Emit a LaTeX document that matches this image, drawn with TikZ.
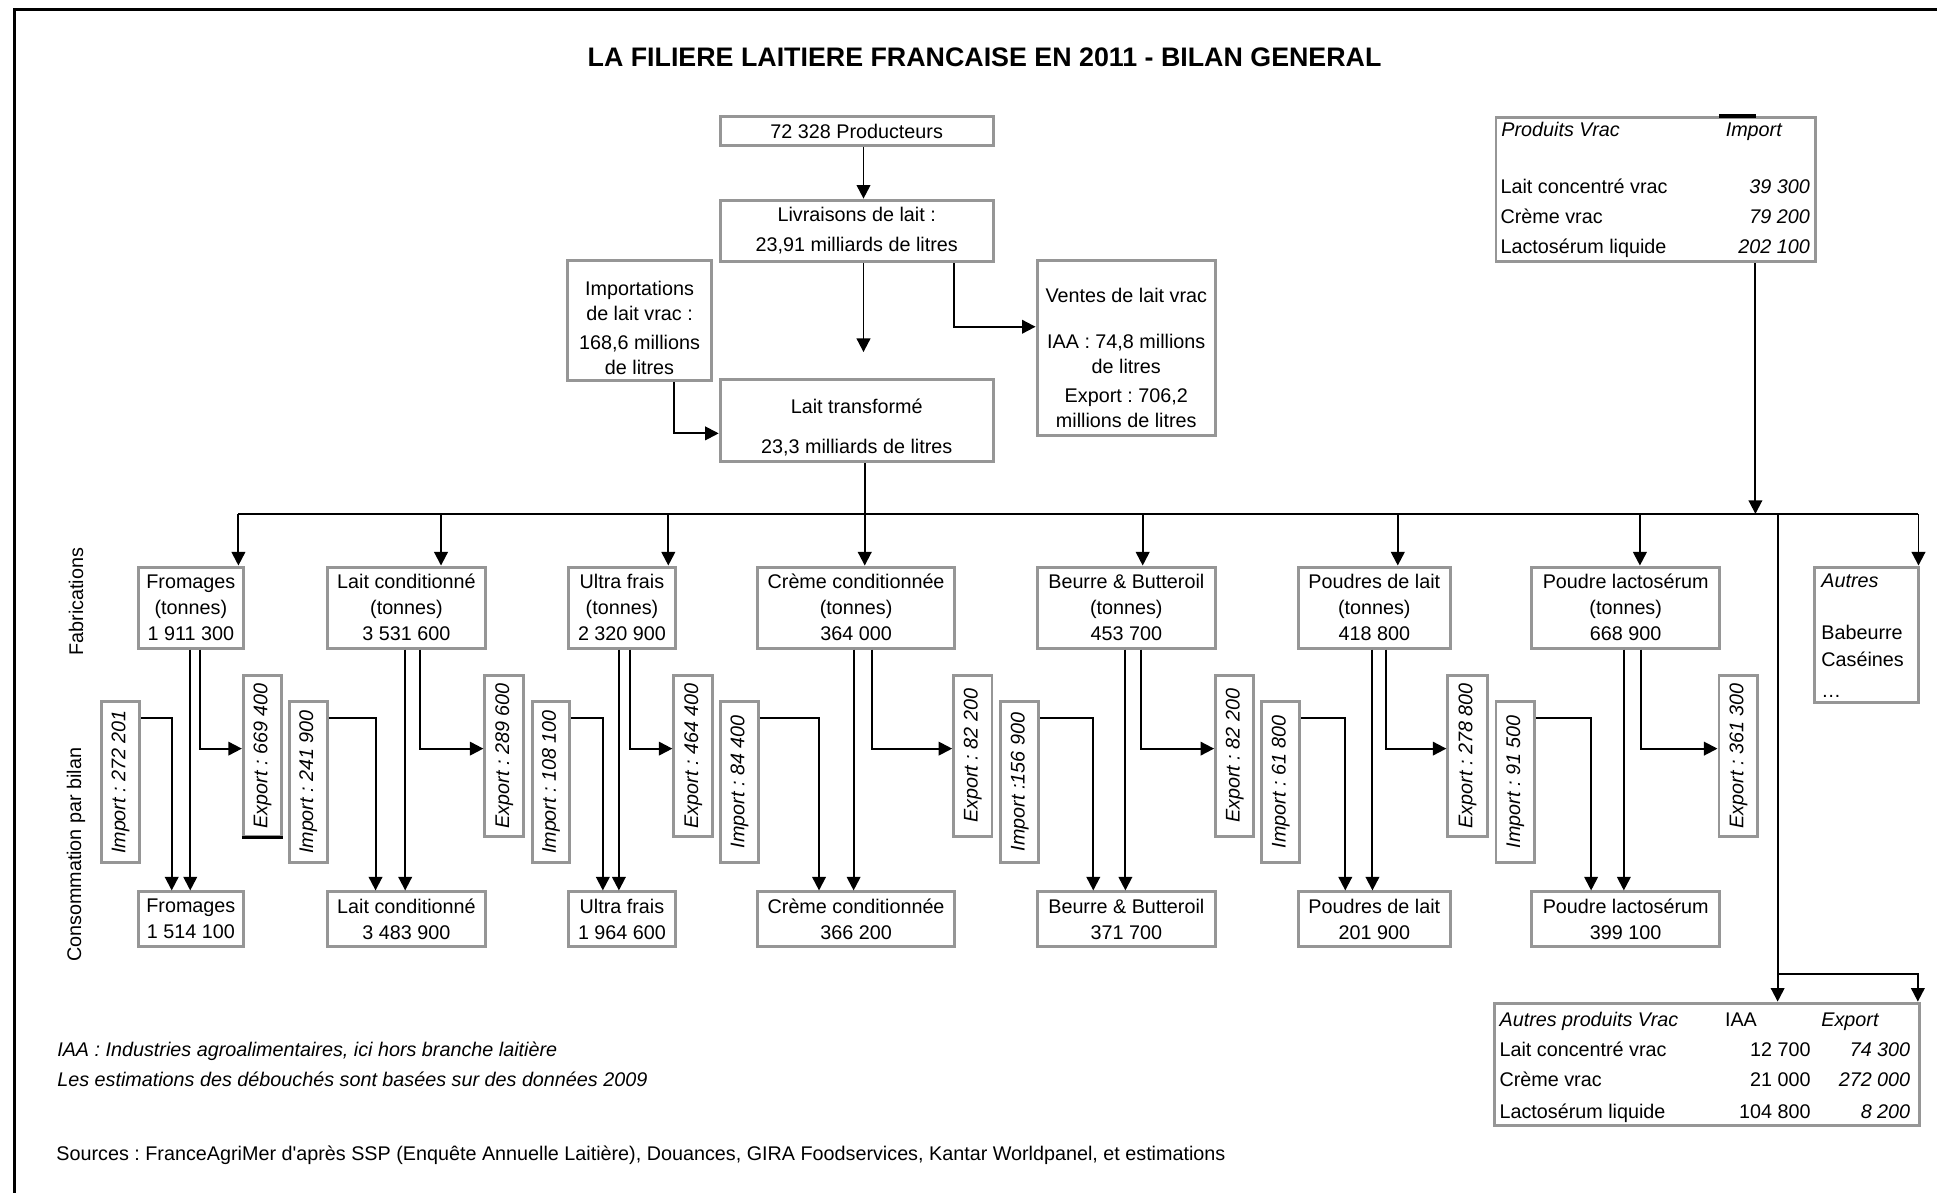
\documentclass[tikz,border=0pt]{standalone}
\usepackage{fontspec}
\setmainfont{Liberation Sans}
\usetikzlibrary{arrows.meta,calc}
\definecolor{boxgray}{RGB}{150,150,150}
\tikzset{
  box/.style={draw=boxgray,line width=1.2pt,fill=white,inner sep=0pt,align=center},
  arr/.style={-{Triangle[length=5.5pt,width=5.5pt]},line width=0.8pt},
  conn/.style={line width=0.8pt},
  tl/.style={inner sep=0pt,text height=6pt,text depth=1.7pt},
  fabf/.style={font=\fontsize{8}{10.5}\selectfont},
  frameline/.style={line width=1.3pt},
  blackmark/.style={line width=1.5pt,black},
}
% #1 opt style, #2 name, #3 left, #4 top, #5 right, #6 bottom, #7 text
\newcommand\MyBox[7][]{\node[box,#1,minimum width={(#5-#3)*0.5pt},minimum height={(#6-#4)*0.5pt}] (#2) at ({(#3+#5)/2},{(#4+#6)/2}) {#7};}
% rotated box: #1 name, #2 left, #3 top, #4 right, #5 bottom, #6 text
\newcommand\MyRBox[6]{\node[box,rotate=90,font=\itshape,minimum width={(#5-#3)*0.5pt},minimum height={(#4-#2)*0.5pt}] (#1) at ({(#2+#4)/2},{(#3+#5)/2}) {#6};}
\begin{document}
\frenchspacing
\fontsize{8}{10}\selectfont
\begin{tikzpicture}[x=0.5pt,y=-0.5pt]
\useasboundingbox (0,0) rectangle (1568,966);
% frame
\draw[frameline] (1568,7.4) -- (11.9,7.4) -- (11.9,966);
% title
\node[font=\bfseries\fontsize{10.85}{13}\selectfont] (title) at (797,46) {LA FILIERE LAITIERE FRANCAISE EN 2011 - BILAN GENERAL};

% top boxes
\MyBox{prod}{583}{94.5}{804}{117.5}{72 328 Producteurs}
\MyBox[font=\fontsize{8}{12.15}\selectfont]{livr}{583}{162}{804}{212}{Livraisons de lait :\\23,91 milliards de litres}
\MyBox{impv}{459.5}{211}{576}{308}{}
\node[align=center,font=\fontsize{8}{10}\selectfont] (impvt) at (517.7,265.5) {Importations\\de lait vrac :\\[2pt]168,6 millions\\de litres};
\MyBox{lt}{583}{307}{804}{373.7}{}
\node[align=center,font=\fontsize{8}{10}\selectfont] (ltt) at (693.5,346) {Lait transformé\\[6.3pt]23,3 milliards de litres};
\MyBox{ventes}{839.5}{211}{984}{352.6}{}
\node[align=center,font=\fontsize{8}{10}\selectfont] (ventest) at (911.7,289.5) {Ventes de lait vrac\\[8.65pt]IAA : 74,8 millions\\de litres\\[1.8pt]Export : 706,2\\millions de litres};

% Produits vrac table
\MyBox{pv}{1211}{95}{1470}{212}{}
\coordinate (m1) at (1391.5,0); \coordinate (m2) at (1421.5,0);
\draw[blackmark] (pv.north -| m1) -- (pv.north -| m2);
\node[tl,anchor=west,font=\itshape] (pvh1) at (1215,106) {Produits Vrac};
\node[tl,anchor=west,font=\itshape] (pvh2) at (1396.6,106) {Import};
\node[tl,anchor=west] (pvr1) at (1214.3,152) {Lait concentré vrac};
\node[tl,anchor=west] (pvr2) at (1214.3,176.5) {Crème vrac};
\node[tl,anchor=west] (pvr3) at (1214.3,201) {Lactosérum liquide};
\node[tl,anchor=east,font=\itshape] (pvv1) at (1465.5,152) {39 300};
\node[tl,anchor=east,font=\itshape] (pvv2) at (1465.5,176.5) {79 200};
\node[tl,anchor=east,font=\itshape] (pvv3) at (1465.5,201) {202 100};

% top connectors
\coordinate (a1) at (699,0);
\coordinate (gap) at (699,285);
\coordinate (v1) at (772,264.5);
\coordinate (i1) at (545.7,350.8);
\coordinate (ltx) at (700,416);
\draw[arr] (prod.south -| a1) -- (livr.north -| a1);
\draw[arr] (livr.south -| a1) -- (gap);
\draw[arr] (livr.south -| v1) |- (ventes.west |- v1);
\draw[arr] (impv.south -| i1) |- (lt.west |- i1);
\draw[conn] (lt.south -| ltx) -- (ltx);

% bus
\coordinate (busL) at (193,416);
\coordinate (busR) at (1553,416);
\draw[conn] (busL) -- (busR);

% fabrication boxes
\MyBox[fabf]{fab1}{112}{459}{197}{524.6}{Fromages\\(tonnes)\\1 911 300}
\MyBox[fabf]{fab2}{265}{459}{393}{524.6}{Lait conditionné\\(tonnes)\\3 531 600}
\MyBox[fabf]{fab3}{460}{459}{547}{524.6}{Ultra frais\\(tonnes)\\2 320 900}
\MyBox[fabf]{fab4}{613}{459}{773}{524.6}{Crème conditionnée\\(tonnes)\\364 000}
\MyBox[fabf]{fab5}{839.5}{459}{984}{524.6}{Beurre \& Butteroil\\(tonnes)\\453 700}
\MyBox[fabf]{fab6}{1051}{459}{1174}{524.6}{Poudres de lait\\(tonnes)\\418 800}
\MyBox[fabf]{fab7}{1240}{459}{1392}{524.6}{Poudre lactosérum\\(tonnes)\\668 900}
\MyBox{fab8}{1469}{459}{1553}{569}{}
\node[tl,anchor=west,font=\itshape] (au1) at (1474,471) {Autres};
\node[tl,anchor=west] (au2) at (1474,513) {Babeurre};
\node[tl,anchor=west] (au3) at (1474,535.6) {Caséines};
\node[tl,anchor=west] (au4) at (1474,560) {…};

% consumption boxes
\MyBox[fabf]{con1}{112}{722}{197}{766}{Fromages\\1 514 100}
\MyBox[fabf]{con2}{265}{722}{393}{766}{Lait conditionné\\3 483 900}
\MyBox[fabf]{con3}{460}{722}{547}{766}{Ultra frais\\1 964 600}
\MyBox[fabf]{con4}{613}{722}{773}{766}{Crème conditionnée\\366 200}
\MyBox[fabf]{con5}{839.5}{722}{984}{766}{Beurre \& Butteroil\\371 700}
\MyBox[fabf]{con6}{1051}{722}{1174}{766}{Poudres de lait\\201 900}
\MyBox[fabf]{con7}{1240}{722}{1392}{766}{Poudre lactosérum\\399 100}

% export boxes
\MyRBox{ex1}{197}{546.5}{228}{677}{Export : 669 400}
\MyRBox{ex2}{392.5}{546.5}{424}{677}{Export : 289 600}
\MyRBox{ex3}{545.5}{546.5}{577}{677}{Export : 464 400}
\MyRBox{ex4}{772}{546.5}{803}{677}{Export : 82 200}
\MyRBox{ex5}{984}{546.5}{1015}{677}{Export : 82 200}
\MyRBox{ex6}{1172}{546.5}{1204}{677}{Export : 278 800}
\MyRBox{ex7}{1391.5}{546.5}{1423}{677}{Export : 361 300}
\draw[blackmark,line width=1.2pt] (ex1.north west) -- (ex1.south west);

% import boxes
\MyRBox{im1}{82}{568}{113}{698}{Import : 272 201}
\MyRBox{im2}{234}{568}{265}{698}{Import : 241 900}
\MyRBox{im3}{431}{568}{461}{698}{Import : 108 100}
\MyRBox{im4}{583.4}{568}{614}{698}{Import : 84 400}
\MyRBox{im5}{810}{568}{841}{698}{Import :156 900}
\MyRBox{im6}{1021.5}{568}{1052}{698}{Import : 61 800}
\MyRBox{im7}{1211}{568}{1242}{698}{Import : 91 500}

% bus arrows to fabrication boxes
\foreach \i/\x in {1/193,2/357,3/541,4/700,5/925,6/1131.5,7/1327.5,8/1553}{
  \coordinate (bx\i) at (\x,416);
  \draw[arr] (bx\i) -- (fab\i.north -| bx\i);
}

% column connectors
\foreach \i/\xi/\xm/\xe in {1/139/154/162,2/304/328/340,3/488/501/510,4/663/691/706,5/885/911/924,6/1089/1111/1122,7/1288/1314.5/1328.5}{
  \coordinate (mx\i) at (\xm,0);
  \coordinate (xe\i) at (\xe,606);
  \coordinate (xi\i) at (\xi,581);
  \draw[arr] (fab\i.south -| mx\i) -- (con\i.north -| mx\i);
  \draw[arr] (fab\i.south -| xe\i) |- (ex\i.north |- xe\i);
  \draw[arr] (im\i.south |- xi\i) -| (con\i.north -| xi\i);
}

% produits vrac to bus
\coordinate (pvx) at (1421,416);
\draw[arr] (pv.south -| pvx) -- (pvx);

% autres produits vrac table
\MyBox{apv}{1210}{812}{1554}{911}{}
\node[tl,anchor=west,font=\itshape] (apvh1) at (1213.5,827) {Autres produits Vrac};
\node[tl,anchor=west] (apvh2) at (1396,827) {IAA};
\node[tl,anchor=west,font=\itshape] (apvh3) at (1474,827) {Export};
\node[tl,anchor=west] (apvr1) at (1213.5,851.3) {Lait concentré vrac};
\node[tl,anchor=west] (apvr2) at (1213.5,875.6) {Crème vrac};
\node[tl,anchor=west] (apvr3) at (1213.5,901) {Lactosérum liquide};
\node[tl,anchor=east] (apvi1) at (1466,851.3) {12 700};
\node[tl,anchor=east] (apvi2) at (1466,875.6) {21 000};
\node[tl,anchor=east] (apvi3) at (1466,901) {104 800};
\node[tl,anchor=east,font=\itshape] (apve1) at (1546.7,851.3) {74 300};
\node[tl,anchor=east,font=\itshape] (apve2) at (1546.7,875.6) {272 000};
\node[tl,anchor=east,font=\itshape] (apve3) at (1546.7,901) {8 200};

% long line to autres produits vrac
\coordinate (lx) at (1439,416);
\coordinate (ly) at (1439,788.5);
\coordinate (rx) at (1552.5,788.5);
\draw[arr] (lx) -- (apv.north -| lx);
\draw[arr] (ly) -| (apv.north -| rx);

% side labels
\node[rotate=90] (fabl) at (61.5,487) {Fabrications};
\node[rotate=90] (consl) at (61.5,692) {Consommation par bilan};

% footnotes
\node[tl,anchor=west,font=\itshape] (n1) at (46,851) {IAA : Industries agroalimentaires, ici hors branche laitière};
\node[tl,anchor=west,font=\itshape] (n2) at (46,875.5) {Les estimations des débouchés sont basées sur des données 2009};
\node[tl,anchor=west] (src) at (45.3,935) {Sources : FranceAgriMer d\textquotesingle après SSP (Enquête Annuelle Laitière), Douances, GIRA Foodservices, Kantar Worldpanel, et estimations};
\end{tikzpicture}
\end{document}
